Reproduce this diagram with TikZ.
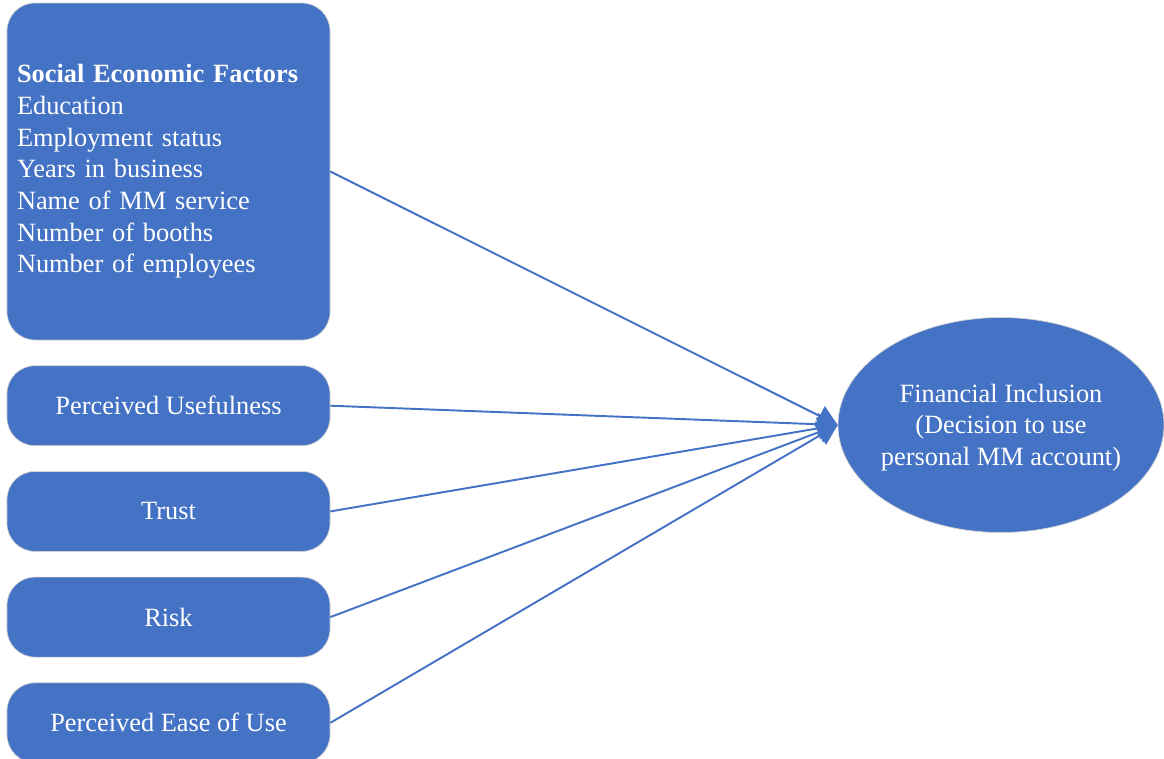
\documentclass[tikz,border=0pt]{standalone}
\usepackage{fontspec}
\setmainfont{Liberation Serif}
\usepackage{tikz}
\usetikzlibrary{shapes.geometric, arrows.meta, positioning}
\definecolor{boxblue}{HTML}{4472C4}
\tikzstyle{factor} = [rectangle, 
rounded corners=0.56cm, 
minimum width=6.46cm, 
minimum height=1.6cm, 
text centered, 
draw=gray!35, 
fill=boxblue, 
text=white, 
font=\fontsize{15}{18}\selectfont]
\tikzstyle{outcome} = [ellipse, 
minimum width=6.52cm, 
minimum height=4.3cm, 
inner sep=0pt, 
draw=gray!35, 
fill=boxblue]
\tikzstyle{outtext} = [align=center, 
text=white, 
font=\fontsize{15}{18}\selectfont]
\tikzstyle{arrow} = [boxblue, line width=1.1pt, -{Triangle[length=0.4cm, width=0.44cm]}]

\begin{document}
\begin{tikzpicture}[node distance=0.5cm]
  \useasboundingbox (0,0) rectangle (23.28,-15.18);
  
  \node (socio) [factor, minimum height=6.74cm, text width=6.06cm, inner xsep=0.2cm, align=left] at (3.37,-3.43)
    {\textbf{Social Economic Factors}\\Education\\Employment status\\Years in business\\Name of MM service\\Number of booths\\Number of employees};
  
  \node (useful) [factor, below=of socio] {Perceived Usefulness};
  \node (trust) [factor, below=of useful] {Trust};
  \node (risk) [factor, below=of trust] {Risk};
  \node (ease) [factor, below=of risk] {Perceived Ease of Use};
  
  % text kept out of the shape so it does not widen the ellipse
  \node (incl) [outcome, label={[outtext, yshift=-0.05cm]center:Financial Inclusion\\(Decision to use\\personal MM account)}] at (20.02,-8.5) {};
  
  \draw [arrow] (socio.east) -- (incl.west);
  \draw [arrow] (useful.east) -- (incl.west);
  \draw [arrow] (trust.east) -- (incl.west);
  \draw [arrow] (risk.east) -- (incl.west);
  \draw [arrow] (ease.east) -- (incl.west);
  
\end{tikzpicture}
\end{document}
